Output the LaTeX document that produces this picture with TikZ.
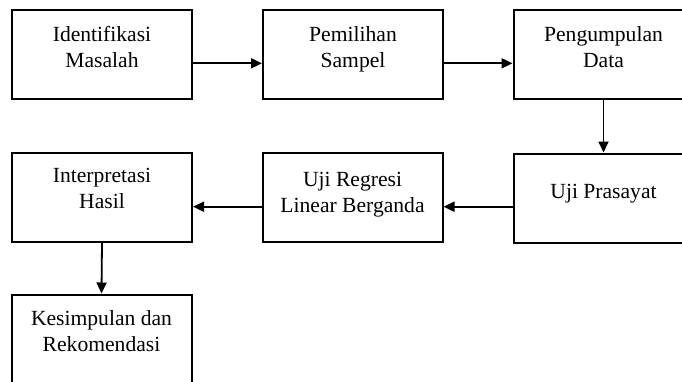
\documentclass[tikz,border=0pt]{standalone}
\usepackage{fontspec}
\setmainfont{Liberation Serif}
\usetikzlibrary{arrows.meta}
\begin{document}
\begin{tikzpicture}[x=1pt,y=-1pt,
 box/.style={draw=black, line width=2pt, rectangle, minimum width=180pt, minimum height=89pt, inner sep=0pt},
 lbl/.style={align=center, anchor=base, inner sep=0pt, font=\fontsize{21.6}{26}\selectfont},
 conn/.style={line width=1.8pt, -{Triangle[length=11pt,width=10pt]}}]
\useasboundingbox (0,0) rectangle (682,381);
\fill[white] (0,0) rectangle (682,381);
\clip (0,0) rectangle (682,381);
\node[box] (b1) at (102,54.5) {};
\node[box] (b2) at (353,54.5) {};
\node[box] (b3) at (603.5,54.5) {};
\node[box] (b4) at (603.5,198) {};
\node[box] (b5) at (352.5,197.5) {};
\node[box] (b6) at (102,197) {};
\node[box] (b7) at (101.5,339) {};
\node[lbl] (t1) at (102,67.5) {Identifikasi\\Masalah};
\node[lbl] (t2) at (353,67.5) {Pemilihan\\Sampel};
\node[lbl] (t3) at (603.5,67.5) {Pengumpulan\\Data};
\node[lbl] (t4) at (603.5,198) {Uji Prasayat};
\node[lbl] (t5) at (352.5,212.5) {Uji Regresi\\Linear Berganda};
\node[lbl] (t6) at (102,208.5) {Interpretasi\\Hasil};
\node[lbl] (t7) at (101.5,351) {Kesimpulan dan\\Rekomendasi};
\draw[conn] (b1.east |- 0,63.3) -- (b2.west |- 0,63.3);
\draw[conn] (b2.east |- 0,63.3) -- (b3.west |- 0,63.3);
\draw[conn] (b3.south) -- (b4.north);
\draw[conn] (b4.west |- 0,206.7) -- (b5.east |- 0,206.7);
\draw[conn] (b5.west |- 0,206.7) -- (b6.east |- 0,206.7);
\draw[conn] (b6.south) -- (b7.north);
\end{tikzpicture}
\end{document}
